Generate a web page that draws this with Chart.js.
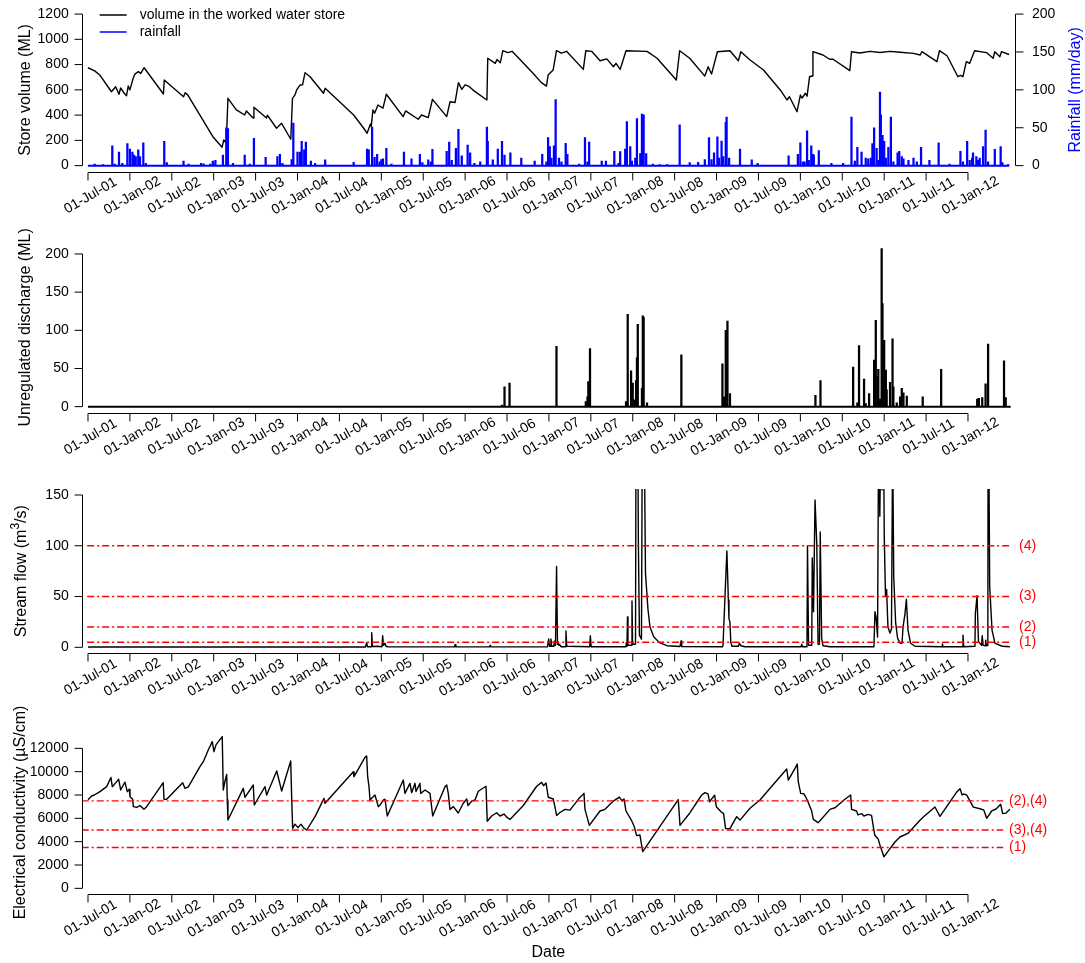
<!DOCTYPE html>
<html>
<head>
<meta charset="utf-8">
<script src="https://cdn.jsdelivr.net/npm/chart.js@4.4.0/dist/chart.umd.min.js"></script>
<style>
  html, body { margin: 0; padding: 0; background: #fff; }
  #wrap { position: relative; width: 1085px; height: 963px; }
  #wrap canvas { position: absolute; left: 0; top: 0; }
</style>
</head>
<body>
<div id="wrap">
  <canvas id="store" width="1085" height="963"></canvas>
  <canvas id="discharge" width="1085" height="963"></canvas>
  <canvas id="flow" width="1085" height="963"></canvas>
  <canvas id="ec" width="1085" height="963"></canvas>
</div>
<script>
// ---- data (time as decimal year) ----
const dateTicks = [2001.5, 2002, 2002.5, 2003, 2003.5, 2004, 2004.5, 2005, 2005.5, 2006, 2006.5,
  2007, 2007.5, 2008, 2008.5, 2009, 2009.5, 2010, 2010.5, 2011, 2011.5, 2012];
const dateTickLabels = ['01-Jul-01', '01-Jan-02', '01-Jul-02', '01-Jan-03', '01-Jul-03', '01-Jan-04',
  '01-Jul-04', '01-Jan-05', '01-Jul-05', '01-Jan-06', '01-Jul-06', '01-Jan-07', '01-Jul-07', '01-Jan-08',
  '01-Jul-08', '01-Jan-09', '01-Jul-09', '01-Jan-10', '01-Jul-10', '01-Jan-11', '01-Jul-11', '01-Jan-12'];
const seriesStart = 2001.5;
const seriesEnd = 2012.5;

// worked water store volume (ML)
const storeYear = [
  2001.50, 2001.58, 2001.64, 2001.78, 2001.83, 2001.87, 2001.89, 2001.93, 2001.96, 2001.98,
  2002.00, 2002.04, 2002.06, 2002.10, 2002.13, 2002.16, 2002.17, 2002.40, 2002.41, 2002.64,
  2002.66, 2002.69, 2002.99, 2003.10, 2003.12, 2003.15, 2003.17, 2003.27, 2003.37, 2003.39,
  2003.47, 2003.48, 2003.63, 2003.64, 2003.75, 2003.81, 2003.92, 2003.94, 2003.97, 2003.99,
  2004.03, 2004.06, 2004.09, 2004.15, 2004.31, 2004.33, 2004.67, 2004.79, 2004.83, 2004.87,
  2004.88, 2004.90, 2004.92, 2004.96, 2005.02, 2005.06, 2005.26, 2005.29, 2005.44, 2005.48,
  2005.56, 2005.61, 2005.78, 2005.82, 2005.88, 2005.92, 2005.96, 2006.00, 2006.04, 2006.11,
  2006.26, 2006.27, 2006.36, 2006.38, 2006.42, 2006.45, 2006.51, 2006.56, 2006.66, 2006.81,
  2006.91, 2006.97, 2006.99, 2007.05, 2007.09, 2007.15, 2007.21, 2007.41, 2007.44, 2007.51,
  2007.61, 2007.69, 2007.77, 2007.80, 2007.85, 2007.92, 2008.17, 2008.29, 2008.52, 2008.56,
  2008.68, 2008.86, 2008.90, 2008.94, 2009.01, 2009.16, 2009.26, 2009.29, 2009.40, 2009.56,
  2009.76, 2009.84, 2009.87, 2009.96, 2010.00, 2010.02, 2010.06, 2010.08, 2010.11, 2010.14,
  2010.15, 2010.27, 2010.35, 2010.39, 2010.59, 2010.61, 2010.71, 2010.83, 2010.95, 2011.07,
  2011.19, 2011.35, 2011.43, 2011.45, 2011.63, 2011.66, 2011.75, 2011.88, 2011.91, 2011.94,
  2011.98, 2012.02, 2012.08, 2012.22, 2012.30, 2012.32, 2012.38, 2012.40, 2012.49];
const storeVolume = [
  775, 750, 718, 585, 625, 565, 615, 575, 554, 630,
  600, 693, 725, 744, 730, 765, 775, 567, 678, 546,
  577, 560, 229, 146, 203, 180, 533, 441, 401, 433,
  377, 463, 377, 400, 296, 335, 209, 533, 560, 599,
  638, 640, 736, 704, 573, 612, 401, 296, 256, 330,
  310, 441, 415, 480, 455, 565, 388, 433, 367, 401,
  380, 525, 388, 506, 500, 657, 604, 640, 630, 590,
  520, 850, 810, 840, 815, 910, 895, 905, 836, 731,
  657, 630, 717, 757, 910, 890, 905, 762, 910, 905,
  830, 845, 783, 810, 762, 910, 905, 850, 678, 910,
  850, 709, 783, 725, 902, 910, 830, 902, 836, 757,
  599, 520, 545, 427, 559, 535, 573, 550, 704, 710,
  902, 876, 842, 842, 752, 902, 892, 905, 896, 905,
  898, 889, 876, 902, 823, 910, 870, 704, 715, 704,
  823, 810, 910, 895, 850, 902, 862, 902, 880];

// daily rainfall (mm/day), rain days only
const rainYear = [
  2001.58, 2001.68, 2001.79, 2001.82, 2001.87, 2001.91, 2001.97, 2002.00, 2002.03, 2002.05,
  2002.07, 2002.10, 2002.12, 2002.16, 2002.19, 2002.41, 2002.44, 2002.64, 2002.70, 2002.85,
  2002.88, 2002.96, 2002.99, 2003.02, 2003.11, 2003.15, 2003.17, 2003.23, 2003.37, 2003.43,
  2003.48, 2003.62, 2003.76, 2003.79, 2003.82, 2003.93, 2003.95, 2004.00, 2004.03, 2004.05,
  2004.08, 2004.10, 2004.16, 2004.21, 2004.33, 2004.67, 2004.83, 2004.85, 2004.89, 2004.92,
  2004.95, 2004.98, 2005.00, 2005.02, 2005.06, 2005.12, 2005.27, 2005.36, 2005.46, 2005.49,
  2005.56, 2005.59, 2005.61, 2005.78, 2005.81, 2005.84, 2005.89, 2005.92, 2005.96, 2006.03,
  2006.06, 2006.11, 2006.18, 2006.26, 2006.27, 2006.33, 2006.39, 2006.44, 2006.47, 2006.54,
  2006.67, 2006.83, 2006.92, 2006.97, 2006.99, 2007.01, 2007.03, 2007.06, 2007.08, 2007.12,
  2007.15, 2007.20, 2007.22, 2007.36, 2007.43, 2007.46, 2007.48, 2007.63, 2007.68, 2007.78,
  2007.83, 2007.85, 2007.91, 2007.93, 2007.97, 2007.99, 2008.03, 2008.05, 2008.09, 2008.11,
  2008.13, 2008.16, 2008.24, 2008.32, 2008.41, 2008.56, 2008.68, 2008.78, 2008.86, 2008.91,
  2008.94, 2008.97, 2009.01, 2009.03, 2009.06, 2009.08, 2009.11, 2009.12, 2009.15, 2009.28,
  2009.42, 2009.49, 2009.86, 2009.97, 2010.00, 2010.03, 2010.05, 2010.08, 2010.10, 2010.13,
  2010.15, 2010.16, 2010.22, 2010.37, 2010.51, 2010.61, 2010.65, 2010.68, 2010.73, 2010.78,
  2010.81, 2010.84, 2010.86, 2010.88, 2010.91, 2010.93, 2010.95, 2010.96, 2010.98, 2011.00,
  2011.02, 2011.05, 2011.08, 2011.11, 2011.16, 2011.18, 2011.21, 2011.23, 2011.29, 2011.35,
  2011.39, 2011.44, 2011.54, 2011.65, 2011.78, 2011.91, 2011.94, 2011.99, 2012.02, 2012.05,
  2012.06, 2012.10, 2012.12, 2012.14, 2012.18, 2012.21, 2012.24, 2012.32, 2012.39, 2012.41,
  2012.48];
const rainMm = [
  2, 1.5, 26, 2, 18, 3, 29, 22, 18, 14,
  12, 21, 12, 30, 3, 32, 4, 6, 2, 3,
  2.5, 2, 6, 7, 14, 50, 49, 3, 14, 2,
  36, 11, 12, 15, 3, 8, 56, 18, 18, 32,
  21, 31, 6, 3, 7.5, 4.4, 22, 21, 51, 11,
  15, 5, 8, 9, 23, 2, 18, 9, 15, 4,
  7.5, 5, 21.5, 19, 31, 7, 23, 48, 13, 27,
  17, 3, 5, 51, 32, 7.5, 22, 32, 14, 17,
  10, 6, 15, 5, 37, 25, 10, 26, 87, 10,
  5, 29.5, 15, 2, 37, 5, 31, 6, 6, 19,
  3, 18.5, 22, 58, 25, 6, 10, 62, 16, 68,
  67, 16, 2, 1.5, 1.5, 54, 4, 4.5, 8, 37,
  8, 17, 38, 10, 32.5, 12, 57, 64, 10, 22,
  7.5, 3, 13, 15, 30, 5, 5, 46, 7, 26,
  15, 14, 20, 3, 3, 64, 6, 24, 18, 10,
  9, 10, 29, 50, 23, 7, 97, 67, 40, 32,
  10, 24, 64, 5, 17, 19, 12, 9, 7, 10,
  5, 24, 7, 30, 2, 19, 5, 32, 7, 10,
  17, 12, 7, 10, 25, 47, 5, 21.5, 25, 4,
  1.5];

// unregulated discharge (ML), non-zero days only
const dischargeYear = [
  2006.44, 2006.47, 2006.53, 2007.09, 2007.44, 2007.46, 2007.47, 2007.49, 2007.92, 2007.94,
  2007.98, 2008.00, 2008.02, 2008.04, 2008.05, 2008.06, 2008.11, 2008.12, 2008.13, 2008.17,
  2008.58, 2009.07, 2009.09, 2009.11, 2009.13, 2009.16, 2010.18, 2010.24, 2010.63, 2010.68,
  2010.70, 2010.76, 2010.78, 2010.82, 2010.88, 2010.90, 2010.92, 2010.93, 2010.95, 2010.97,
  2010.98, 2011.00, 2011.02, 2011.03, 2011.07, 2011.10, 2011.11, 2011.15, 2011.19, 2011.21,
  2011.23, 2011.27, 2011.46, 2011.68, 2012.11, 2012.13, 2012.17, 2012.21, 2012.24, 2012.43,
  2012.45];
const dischargeMl = [
  2, 26, 31, 79, 6.5, 13, 33, 76, 6.5, 121,
  47, 31, 9, 34, 64, 108, 24, 119, 117, 5,
  68, 56, 13, 100, 112, 17, 15, 34, 52, 5,
  80, 36, 4, 17, 61, 113, 39, 49, 10, 207,
  135, 87, 48, 22, 32, 89, 26, 5, 13, 24,
  18, 14, 13, 49, 10, 11, 12, 30, 82, 60,
  12];

// stream flow (m3/s)
const flowYear = [
  2001.500, 2004.810, 2004.825, 2004.835, 2004.877, 2004.885, 2004.895, 2004.950, 2005.008, 2005.016,
  2005.026, 2005.044, 2005.056, 2005.080, 2005.870, 2005.880, 2005.890, 2006.290, 2006.300, 2006.310,
  2006.982, 2006.997, 2007.006, 2007.018, 2007.024, 2007.033, 2007.060, 2007.065, 2007.078, 2007.091,
  2007.102, 2007.108, 2007.120, 2007.132, 2007.144, 2007.195, 2007.203, 2007.213, 2007.486, 2007.494,
  2007.504, 2007.919, 2007.924, 2007.931, 2007.937, 2007.943, 2007.985, 2007.991, 2007.998, 2008.033,
  2008.040, 2008.058, 2008.067, 2008.080, 2008.104, 2008.116, 2008.134, 2008.152, 2008.182, 2008.206,
  2008.250, 2008.318, 2008.408, 2008.564, 2008.576, 2008.585, 2009.071, 2009.077, 2009.123, 2009.141,
  2009.148, 2009.159, 2009.170, 2009.184, 2009.262, 2009.270, 2009.292, 2009.339, 2010.007, 2010.017,
  2010.025, 2010.079, 2010.085, 2010.098, 2010.136, 2010.142, 2010.157, 2010.175, 2010.196, 2010.211,
  2010.228, 2010.237, 2010.254, 2010.270, 2010.353, 2010.878, 2010.890, 2010.903, 2010.921, 2010.934,
  2010.948, 2010.962, 2010.975, 2010.988, 2011.001, 2011.016, 2011.029, 2011.045, 2011.069, 2011.087,
  2011.101, 2011.114, 2011.137, 2011.160, 2011.189, 2011.213, 2011.225, 2011.249, 2011.265, 2011.284,
  2011.315, 2011.368, 2011.690, 2011.695, 2011.702, 2011.935, 2011.940, 2011.950, 2012.083, 2012.088,
  2012.108, 2012.125, 2012.162, 2012.170, 2012.180, 2012.204, 2012.211, 2012.219, 2012.237, 2012.241,
  2012.259, 2012.287, 2012.322, 2012.412, 2012.500];
const flowM3s = [
  0.3, 0.3, 4.6, 0.5, 0.5, 14.5, 0.8, 1, 0.5, 11.5,
  2, 4, 1, 0.4, 0.4, 2.5, 0.4, 0.4, 2, 0.4,
  0.5, 8.2, 1, 1, 8.2, 1, 1, 6, 2, 79.6,
  3, 5.6, 2, 2.3, 0.6, 0.6, 16, 1, 0.5, 11.5,
  0.5, 0.5, 4.6, 1, 30, 2, 2, 45.7, 3, 3,
  250, 250, 104, 12, 8, 260, 240, 73, 37, 20,
  10.5, 4.6, 1.6, 0.8, 6.2, 0.7, 0.5, 2, 95, 46.7,
  28, 25.3, 5, 1, 1, 4, 1.5, 0.5, 0.5, 3,
  0.5, 0.5, 100, 2, 2, 88, 35, 145, 102, 3,
  3, 113.5, 9, 1.5, 0.5, 0.5, 35, 30, 10, 220,
  129, 230, 155, 260, 109, 50, 57, 20, 14, 18,
  200, 70, 24, 9, 4, 4, 20, 33.5, 47.4, 17,
  4, 1, 0.5, 3.3, 0.5, 0.5, 12, 0.5, 1, 33,
  50.7, 5.6, 2, 11.5, 2, 1.5, 7, 1.5, 2, 300,
  60, 17, 4, 1, 0.5];
const flowLimits = [5, 20, 50, 100];
const flowLimitLabels = ['(1)', '(2)', '(3)', '(4)'];

// electrical conductivity (uS/cm)
const ecYear = [
  2001.500, 2001.544, 2001.575, 2001.643, 2001.723, 2001.774, 2001.790, 2001.842, 2001.866, 2001.890,
  2001.941, 2001.969, 2001.993, 2002.001, 2002.033, 2002.041, 2002.081, 2002.120, 2002.168, 2002.200,
  2002.398, 2002.407, 2002.439, 2002.630, 2002.657, 2002.697, 2002.836, 2002.876, 2002.935, 2002.983,
  2003.003, 2003.027, 2003.102, 2003.114, 2003.135, 2003.155, 2003.162, 2003.170, 2003.353, 2003.373,
  2003.472, 2003.484, 2003.612, 2003.632, 2003.752, 2003.811, 2003.919, 2003.930, 2003.942, 2003.970,
  2004.006, 2004.041, 2004.077, 2004.110, 2004.209, 2004.316, 2004.328, 2004.666, 2004.674, 2004.805,
  2004.825, 2004.837, 2004.853, 2004.865, 2004.924, 2004.964, 2004.984, 2005.024, 2005.044, 2005.071,
  2005.262, 2005.282, 2005.342, 2005.362, 2005.402, 2005.414, 2005.461, 2005.470, 2005.521, 2005.581,
  2005.613, 2005.760, 2005.780, 2005.799, 2005.819, 2005.859, 2005.918, 2005.978, 2006.019, 2006.034,
  2006.082, 2006.118, 2006.157, 2006.217, 2006.249, 2006.264, 2006.317, 2006.376, 2006.416, 2006.464,
  2006.496, 2006.535, 2006.694, 2006.854, 2006.913, 2006.935, 2006.965, 2006.992, 2007.052, 2007.092,
  2007.132, 2007.191, 2007.251, 2007.350, 2007.418, 2007.430, 2007.482, 2007.609, 2007.669, 2007.768,
  2007.840, 2007.872, 2007.896, 2007.919, 2007.987, 2008.015, 2008.047, 2008.086, 2008.119, 2008.543,
  2008.564, 2008.683, 2008.823, 2008.862, 2008.898, 2008.917, 2008.977, 2008.997, 2009.056, 2009.084,
  2009.108, 2009.160, 2009.240, 2009.280, 2009.399, 2009.518, 2009.757, 2009.837, 2009.856, 2009.936,
  2009.963, 2009.975, 2010.004, 2010.043, 2010.082, 2010.135, 2010.154, 2010.213, 2010.234, 2010.353,
  2010.413, 2010.532, 2010.600, 2010.611, 2010.671, 2010.686, 2010.734, 2010.758, 2010.808, 2010.849,
  2010.868, 2010.888, 2010.927, 2010.950, 2010.997, 2011.069, 2011.129, 2011.189, 2011.288, 2011.427,
  2011.467, 2011.606, 2011.666, 2011.865, 2011.905, 2011.930, 2011.950, 2011.985, 2012.064, 2012.143,
  2012.190, 2012.223, 2012.283, 2012.335, 2012.390, 2012.414, 2012.453, 2012.500];
const ecUScm = [
  7600, 7914, 8000, 8286, 8714, 9500, 8714, 9143, 9343, 8430,
  9100, 8286, 8486, 7857, 7628, 7000, 6943, 7100, 6771, 7000,
  9057, 7628, 7628, 9057, 8571, 8700, 10430, 10857, 11857, 12571,
  11714, 12300, 13000, 8430, 9200, 9771, 7570, 5857, 8571, 7800,
  8857, 7143, 8714, 8000, 10057, 8343, 10914, 7857, 5143, 5500,
  5200, 5500, 5150, 5000, 6143, 7714, 7286, 10000, 9571, 11228,
  11343, 9571, 8714, 7571, 8000, 7000, 7140, 7570, 7630, 6200,
  9280, 8140, 9000, 8200, 9000, 8300, 9000, 8140, 8430, 8140,
  6200, 8710, 8860, 8140, 6770, 7000, 6460, 7290, 7660, 7100,
  7500, 7570, 8320, 8600, 8750, 5750, 6200, 6480, 6200, 6370,
  6100, 5900, 7100, 8750, 9080, 8800, 9030, 7810, 7660, 6250,
  6500, 6770, 6700, 7630, 8140, 6770, 5400, 6630, 6770, 7480,
  7820, 7500, 7660, 6630, 5800, 5350, 4520, 4570, 3150, 7600,
  5400, 6480, 8000, 8200, 8100, 7420, 7990, 7000, 6540, 6400,
  5120, 5120, 6140, 5850, 6860, 7570, 9570, 10230, 9280, 10280,
  10650, 9140, 8140, 8100, 7570, 6630, 5910, 5630, 5800, 6770,
  6910, 7630, 8000, 6770, 6630, 6300, 6400, 6200, 6340, 6250,
  5400, 4540, 4260, 3690, 2700, 3400, 3970, 4400, 4740, 5830,
  6110, 6970, 6170, 8250, 8540, 8000, 8100, 7990, 6960, 6820,
  6700, 6000, 6630, 6800, 7200, 6400, 6450, 6770];
const ecLimits = [3500, 5000, 7500];
const ecLimitLabels = ['(1)', '(3),(4)', '(2),(4)'];

// ---- helpers ----
const FONT = '"Liberation Sans", Arial, Helvetica, sans-serif';
const X_MIN = 2001.425, X_MAX = 2012.561;
const W = 1085, H = 963;
const RED = '#ff0000';

Chart.defaults.font.family = FONT;

function toXY(xs, ys) {
  return xs.map((x, i) => ({ x: x, y: ys[i] }));
}

function lineSet(data, color, width, extra) {
  return Object.assign({
    type: 'line', data: data, borderColor: color, backgroundColor: color,
    borderWidth: width, pointRadius: 0, tension: 0, fill: false,
    borderJoinStyle: 'round'
  }, extra || {});
}

function limitSets(values, x0, x1) {
  return values.map(v => lineSet([{ x: x0, y: v }, { x: x1, y: v }], RED, 1.4,
    { borderDash: [7, 3, 2, 3], borderJoinStyle: 'miter', order: 0 }));
}

// rotated title, pieces may be superscripts: [text, size, rise]
function rotTitle(ctx, parts, x, y) {
  let total = 0;
  parts.forEach(p => { ctx.font = p[1] + 'px ' + FONT; total += ctx.measureText(p[0]).width; });
  ctx.save();
  ctx.translate(x, y);
  ctx.rotate(-Math.PI / 2);
  ctx.textAlign = 'left';
  let pos = -total / 2;
  parts.forEach(p => {
    ctx.font = p[1] + 'px ' + FONT;
    ctx.fillText(p[0], pos, -p[2]);
    pos += ctx.measureText(p[0]).width;
  });
  ctx.restore();
}

// R-like axes drawn from the chart's own scales
function rAxes(cfg) {
  return {
    id: 'rAxes',
    afterDraw(chart) {
      const ctx = chart.ctx, a = chart.chartArea;
      const xs = chart.scales.x, ys = chart.scales.y;
      ctx.save();
      ctx.lineWidth = 1;
      ctx.strokeStyle = '#000';
      ctx.fillStyle = '#000';
      ctx.font = '14px ' + FONT;

      // left axis
      const xl = Math.round(a.left) + 0.5;
      const yPx = cfg.yTicks.map(v => ys.getPixelForValue(v));
      ctx.beginPath();
      ctx.moveTo(xl, yPx[0]);
      ctx.lineTo(xl, yPx[yPx.length - 1]);
      yPx.forEach(p => { ctx.moveTo(xl, p); ctx.lineTo(xl - 8, p); });
      ctx.stroke();
      ctx.textAlign = 'right';
      ctx.textBaseline = 'middle';
      cfg.yTicks.forEach((v, i) => ctx.fillText(String(v), a.left - 13, yPx[i]));

      // right axis (rainfall)
      if (cfg.y2Ticks) {
        const y2 = chart.scales.y2;
        const xr = Math.round(a.right) + 0.5;
        const rPx = cfg.y2Ticks.map(v => y2.getPixelForValue(v));
        ctx.beginPath();
        ctx.moveTo(xr, rPx[0]);
        ctx.lineTo(xr, rPx[rPx.length - 1]);
        rPx.forEach(p => { ctx.moveTo(xr, p); ctx.lineTo(xr + 8, p); });
        ctx.stroke();
        ctx.textAlign = 'left';
        cfg.y2Ticks.forEach((v, i) => ctx.fillText(String(v), a.right + 17, rPx[i]));
      }

      // bottom date axis
      const yb = Math.round(a.bottom) + 0.5;
      const xPx = dateTicks.map(t => xs.getPixelForValue(t));
      ctx.beginPath();
      ctx.moveTo(xPx[0], yb);
      ctx.lineTo(xPx[xPx.length - 1], yb);
      xPx.forEach(p => { ctx.moveTo(p, yb); ctx.lineTo(p, yb + 8); });
      ctx.stroke();
      ctx.textAlign = 'center';
      ctx.textBaseline = 'middle';
      dateTickLabels.forEach((lab, i) => {
        ctx.save();
        ctx.translate(xPx[i] + 2.5, a.bottom + 24);
        ctx.rotate(-Math.PI / 6);
        ctx.fillText(lab, 0, 0);
        ctx.restore();
      });

      // threshold labels
      if (cfg.limits) {
        ctx.fillStyle = RED;
        ctx.textAlign = 'left';
        cfg.limits.values.forEach((v, i) =>
          ctx.fillText(cfg.limits.labels[i], a.right + cfg.limits.dx, ys.getPixelForValue(v)));
      }

      // legend
      if (cfg.legend) {
        cfg.legend.forEach((item, i) => {
          const ly = a.top + 7 + i * 17;
          ctx.strokeStyle = item.color;
          ctx.lineWidth = 1.5;
          ctx.beginPath();
          ctx.moveTo(a.left + 18, ly);
          ctx.lineTo(a.left + 45, ly);
          ctx.stroke();
          ctx.fillStyle = '#000';
          ctx.textAlign = 'left';
          ctx.fillText(item.label, a.left + 58, ly);
        });
      }

      // titles
      ctx.textBaseline = 'alphabetic';
      ctx.fillStyle = '#000';
      rotTitle(ctx, cfg.title, cfg.titleX, (a.top + a.bottom) / 2);
      if (cfg.title2) {
        ctx.fillStyle = '#0000ff';
        rotTitle(ctx, cfg.title2, 1080, (a.top + a.bottom) / 2);
      }
      if (cfg.xTitle) {
        ctx.fillStyle = '#000';
        ctx.font = '16px ' + FONT;
        ctx.textAlign = 'center';
        ctx.textBaseline = 'middle';
        ctx.fillText(cfg.xTitle, (a.left + a.right) / 2, a.bottom + 58);
      }
      ctx.restore();
    }
  };
}

function baseOptions(top, bottom, yMin, yMax) {
  return {
    responsive: false,
    animation: false,
    devicePixelRatio: 1,
    layout: { padding: { left: 81.7, right: W - 1015, top: top, bottom: H - bottom } },
    plugins: { legend: { display: false }, tooltip: { enabled: false } },
    scales: {
      x: { type: 'linear', display: false, min: X_MIN, max: X_MAX, offset: false },
      y: { type: 'linear', display: false, min: yMin, max: yMax }
    }
  };
}

// ---- panel 1: store volume + rainfall ----
const opt1 = baseOptions(8, 171.7, -48, 1248);
opt1.scales.y2 = { type: 'linear', display: false, position: 'right', min: -8, max: 208 };
new Chart(document.getElementById('store'), {
  type: 'bar',
  data: {
    datasets: [
      { type: 'bar', data: toXY(rainYear, rainMm), yAxisID: 'y2', backgroundColor: '#0000ff',
        borderWidth: 0, barThickness: 1.6, grouped: false, order: 0 },
      lineSet([{ x: seriesStart, y: 0 }, { x: seriesEnd - 0.01, y: 0 }], '#0000ff', 2, { yAxisID: 'y2', order: 1 }),
      lineSet(toXY(storeYear, storeVolume), '#000', 1.4, { order: 2 })
    ]
  },
  options: opt1,
  plugins: [rAxes({
    yTicks: [0, 200, 400, 600, 800, 1000, 1200],
    y2Ticks: [0, 50, 100, 150, 200],
    title: [['Store volume (ML)', 16, 0]], titleX: 30,
    title2: [['Rainfall (mm/day)', 16, 0]],
    legend: [{ label: 'volume in the worked water store', color: '#000' },
             { label: 'rainfall', color: '#0000ff' }]
  })]
});

// ---- panel 2: unregulated discharge ----
new Chart(document.getElementById('discharge'), {
  type: 'bar',
  data: {
    datasets: [
      { type: 'bar', data: toXY(dischargeYear, dischargeMl), backgroundColor: '#000',
        borderWidth: 0, barThickness: 1.6, grouped: false, order: 0 },
      lineSet([{ x: seriesStart, y: 0 }, { x: seriesEnd + 0.01, y: 0 }], '#000', 2, { order: 1 })
    ]
  },
  options: baseOptions(241.9, 413, -8.3, 215.8),
  plugins: [rAxes({
    yTicks: [0, 50, 100, 150, 200],
    title: [['Unregulated discharge (ML)', 16, 0]], titleX: 30
  })]
});

// ---- panel 3: stream flow ----
new Chart(document.getElementById('flow'), {
  type: 'line',
  data: {
    datasets: limitSets(flowLimits, seriesStart - 0.01, seriesEnd)
      .concat([lineSet(toXY(flowYear, flowM3s), '#000', 1.4, { order: 1 })])
  },
  options: baseOptions(488.9, 653.4, -6, 156),
  plugins: [rAxes({
    yTicks: [0, 50, 100, 150],
    title: [['Stream flow (m', 16, 0], ['3', 12, 7], ['/s)', 16, 0]], titleX: 26,
    limits: { values: flowLimits, labels: flowLimitLabels, dx: 4 }
  })]
});

// ---- panel 4: electrical conductivity ----
new Chart(document.getElementById('ec'), {
  type: 'line',
  data: {
    datasets: limitSets(ecLimits, X_MIN, seriesEnd - 0.08)
      .concat([lineSet(toXY(ecYear, ecUScm), '#000', 1.4, { order: 1 })])
  },
  options: baseOptions(730.6, 894.4, -520, 13520),
  plugins: [rAxes({
    yTicks: [0, 2000, 4000, 6000, 8000, 10000, 12000],
    title: [['Electrical conductivity (µS/cm)', 16, 0]], titleX: 25,
    limits: { values: ecLimits, labels: ecLimitLabels, dx: -6 },
    xTitle: 'Date'
  })]
});
</script>
</body>
</html>
